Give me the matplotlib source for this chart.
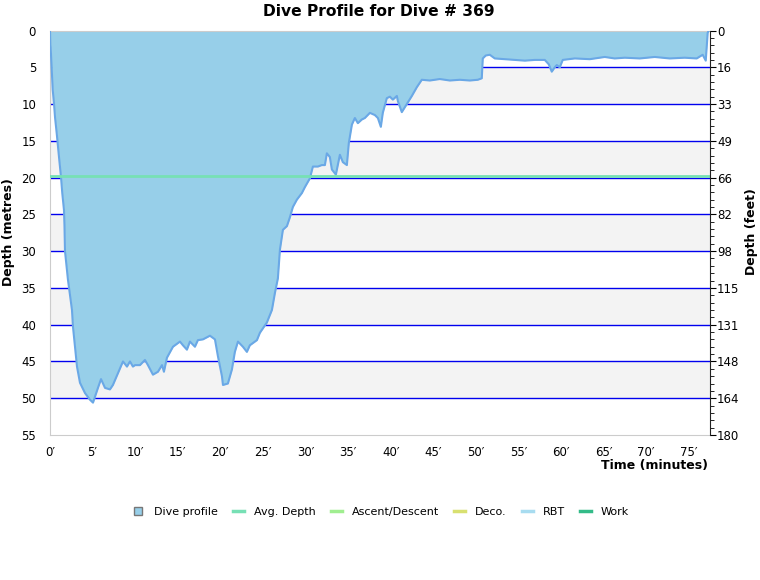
import matplotlib
matplotlib.use("Agg")
import matplotlib.pyplot as plt
from matplotlib.lines import Line2D

# ---- data ----
time_min = [0.00, 0.04, 0.08, 0.20, 0.32, 0.47, 0.59, 0.79, 0.97, 1.09, 1.29, 1.44, 1.64, 1.70,
            1.76, 2.11, 2.58, 2.70, 2.93, 3.17, 3.52, 4.11, 4.69, 5.05, 5.28, 5.63, 5.99, 6.46,
            7.04, 7.39, 7.98, 8.57, 9.04, 9.39, 9.74, 9.98, 10.56, 11.15, 11.50, 12.09, 12.68,
            13.15, 13.38, 13.73, 14.44, 15.26, 15.61, 16.08, 16.43, 17.02, 17.37, 17.96, 18.78,
            19.37, 19.72, 20.19, 20.31, 20.89, 21.36, 21.71, 22.07, 22.65, 23.12, 23.47, 24.30,
            24.65, 25.47, 26.06, 26.41, 26.76, 27.00, 27.35, 27.82, 28.17, 28.52, 28.99, 29.58,
            29.93, 30.52, 30.87, 31.46, 31.92, 32.28, 32.51, 32.86, 33.10, 33.57, 34.04, 34.39,
            34.86, 35.09, 35.45, 35.80, 36.15, 36.62, 36.97, 37.56, 38.15, 38.50, 38.85, 39.08,
            39.55, 39.91, 40.26, 40.73, 40.85, 41.31, 41.90, 42.49, 43.08, 43.66, 44.60, 45.77,
            46.95, 48.12, 49.30, 50.23, 50.70, 50.82, 51.17, 51.64, 52.23, 53.40, 54.58, 55.75,
            56.92, 58.10, 58.57, 58.92, 59.27, 59.51, 59.86, 60.21, 61.62, 63.38, 65.14, 66.31,
            67.49, 69.25, 71.01, 72.77, 74.53, 75.94, 76.64, 77.00, 77.23, 77.35]
depth_m = [0.0, 2.0, 2.4, 5.4, 8.1, 9.9, 11.8, 14.0, 16.2, 17.6, 19.9, 22.1, 24.4, 26.5,
           30.0, 33.9, 38.0, 40.3, 43.0, 45.7, 47.9, 49.3, 50.2, 50.6, 49.8, 48.6, 47.4, 48.6,
           48.8, 48.2, 46.6, 45.0, 45.7, 45.0, 45.7, 45.5, 45.5, 44.8, 45.5, 46.8, 46.4,
           45.5, 46.4, 44.5, 43.0, 42.3, 42.8, 43.4, 42.3, 43.0, 42.1, 42.0, 41.5,
           42.0, 44.3, 47.0, 48.2, 48.0, 46.1, 43.7, 42.3, 43.0, 43.7, 42.8, 42.1,
           41.1, 39.7, 38.0, 35.7, 33.7, 29.8, 27.1, 26.6, 25.4, 24.0, 23.0, 22.1,
           21.3, 20.1, 18.5, 18.5, 18.3, 18.3, 16.7, 17.2, 18.9, 19.6, 16.9, 17.9,
           18.3, 15.3, 12.8, 11.9, 12.6, 12.1, 11.9, 11.2, 11.5, 11.9, 13.1, 11.2,
           9.2, 9.0, 9.4, 8.9, 9.6, 11.1, 10.0, 8.9, 7.7, 6.7, 6.8, 6.6,
           6.8, 6.7, 6.8, 6.7, 6.5, 3.8, 3.4, 3.3, 3.8, 3.9, 4.0, 4.1,
           4.0, 4.0, 4.6, 5.6, 5.0, 4.7, 5.0, 4.0, 3.8, 3.9, 3.6, 3.8,
           3.7, 3.8, 3.6, 3.8, 3.7, 3.8, 3.3, 4.1, 0.3, 0.0]
avg_depth = 19.8
y_ticks_m = [0, 5, 10, 15, 20, 25, 30, 35, 40, 45, 50, 55]
feet_labels = ["0", "16", "33", "49", "66", "82", "98", "115", "131", "148", "164", "180"]
x_ticks = [0, 5, 10, 15, 20, 25, 30, 35, 40, 45, 50, 55, 60, 65, 70, 75]
x_labels = [f"{v}\u2032" for v in x_ticks]
legend_names = ["Dive profile", "Avg. Depth", "Ascent/Descent", "Deco.", "RBT", "Work"]
legend_colors = ["#97cfe9", "#77e0b5", "#a0ee90", "#d8e070", "#a8dcf0", "#33bb88"]

plt.rcParams['font.family'] = ['DejaVu Sans']

fig = plt.figure(figsize=(7.6, 5.8), dpi=100)
ax = fig.add_axes([50/760, 1-435/580, 660/760, (435-30.5)/580])

xmax = 77.5
ax.set_xlim(0, xmax)
ax.set_ylim(55, 0)

# bands
for lo in [5, 15, 25, 35, 45]:
    ax.axhspan(lo, lo + 5, color="#f3f3f3", zorder=0, lw=0)
# grid lines
for g in [5, 10, 15, 20, 25, 30, 35, 40, 45, 50]:
    ax.axhline(g, color="#0000ee", lw=1.0, zorder=1)

ax.fill_between(time_min, 0, depth_m, color="#97cfe9", lw=0, zorder=2)
ax.plot(time_min, depth_m, color="#6aa8e6", lw=1.5, zorder=3)
ax.axhline(avg_depth, color=legend_colors[1], lw=2, zorder=4)

ax.set_yticks(y_ticks_m)
ax.set_yticklabels([str(v) for v in y_ticks_m])
ax.set_xticks(x_ticks)
ax.set_xticklabels(x_labels)
ax.tick_params(axis='both', length=0, labelsize=8.5)
ax.tick_params(axis='y', pad=10)
ax.tick_params(axis='x', pad=8)
for s in ['left', 'bottom', 'top']:
    ax.spines[s].set_color("#cccccc")
ax.spines['right'].set_visible(False)

ax2 = ax.twinx()
ax2.set_ylim(55, 0)
ax2.set_yticks(y_ticks_m)
ax2.set_yticklabels(feet_labels)
ax2.set_yticks(list(range(0, 56)), minor=True)
ax2.tick_params(axis='y', which='major', length=4, pad=1, labelsize=8.5, direction='out')
ax2.tick_params(axis='y', which='minor', length=3, direction='out')
for s in ['left', 'bottom', 'top']:
    ax2.spines[s].set_visible(False)
ax2.spines['right'].set_color("#222222")

fig.text(379/760, 1-12/580, "Dive Profile for Dive # 369", ha='center', va='center',
         fontsize=11.2, fontweight='bold')
fig.text(9/760, 1-232/580, "Depth (metres)", rotation=90, ha='center', va='center',
         fontsize=9, fontweight='bold')
fig.text(752/760, 1-232/580, "Depth (feet)", rotation=90, ha='center', va='center',
         fontsize=9, fontweight='bold')
fig.text(708/760, 1-466/580, "Time (minutes)", ha='right', va='center',
         fontsize=9, fontweight='bold')

handles = [Line2D([], [], marker='s', ls='none', markerfacecolor=legend_colors[0],
                  markeredgecolor="#777777", markersize=6)]
for c in legend_colors[1:]:
    handles.append(Line2D([], [], color=c, lw=2.5))
fig.legend(handles, legend_names, loc='center', bbox_to_anchor=(381/760, 1-512/580),
           ncol=6, frameon=False, fontsize=8, handlelength=1.0, handletextpad=0.9,
           columnspacing=1.35)

fig.savefig("out.png", dpi=100)
